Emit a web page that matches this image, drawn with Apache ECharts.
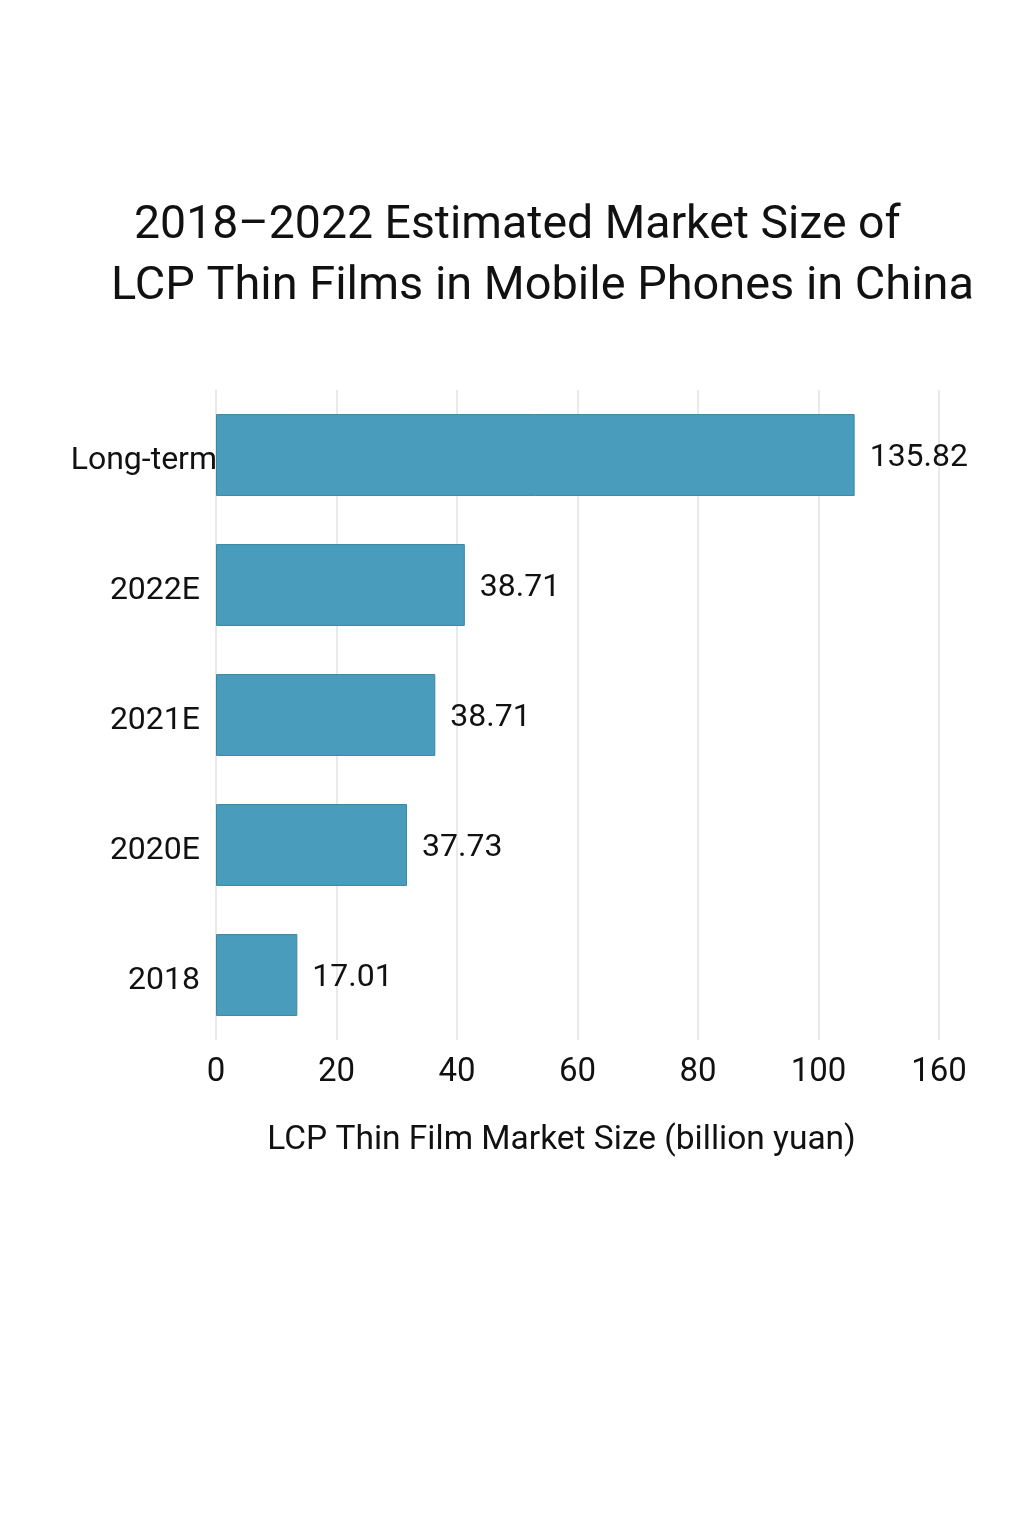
<!DOCTYPE html>
<html><head><meta charset="utf-8">
<script src="https://cdn.jsdelivr.net/npm/echarts@6/dist/echarts.min.js"></script>
<style>html,body{margin:0;padding:0;background:#fff}#c{width:1024px;height:1536px}</style>
</head><body><div id="c"></div>
<script>
const titleLine1 = '2018\u20132022 Estimated Market Size of';
const titleLine2 = 'LCP Thin Films in Mobile Phones in China';
const categories = ['2018', '2020E', '2021E', '2022E', 'Long-term'];
// bar lengths as drawn against the axis
const barLengths = [13.5, 31.7, 36.4, 41.3, 106.0];
// printed value labels
const valueLabels = ['17.01', '37.73', '38.71', '38.71', '135.82'];
const tickLabels = ['0', '20', '40', '60', '80', '100', '160'];
const axisName = 'LCP Thin Film Market Size (billion yuan)';

const FONT = 'Roboto';
const chart = echarts.init(document.getElementById('c'), null, {renderer: 'canvas'});
chart.setOption({
  backgroundColor: '#ffffff',
  animation: false,
  title: [
    {text: titleLine1, left: 129, top: 198, textStyle: {fontFamily: FONT, fontSize: 46.4, fontWeight: 'normal', color: '#111'}},
    {text: titleLine2, left: 106, top: 259, textStyle: {fontFamily: FONT, fontSize: 46.9, fontWeight: 'normal', color: '#111'}}
  ],
  grid: {left: 216, right: 85, top: 390, bottom: 496, containLabel: false},
  xAxis: {
    type: 'value', min: 0, max: 120, interval: 20,
    axisLine: {show: false}, axisTick: {show: false},
    splitLine: {show: true, lineStyle: {color: '#e2e2e2', width: 1.5}},
    axisLabel: {fontFamily: FONT, fontSize: 33, color: '#111', margin: 16,
      formatter: function (v) { return tickLabels[Math.round(v / 20)]; }},
    name: axisName, nameLocation: 'middle', nameGap: 84,
    nameTextStyle: {fontFamily: FONT, fontSize: 33.5, color: '#111', padding: [0, 32, 0, 0]}
  },
  yAxis: {
    type: 'category', data: categories,
    axisLine: {show: false}, axisTick: {show: false},
    axisLabel: {fontFamily: FONT, fontSize: 32, color: '#111', margin: 16,
      formatter: function (v, i) { return (i === categories.length - 1 ? '{b|' : '{a|') + v + '}'; },
      rich: {
        a: {fontFamily: FONT, fontSize: 32, color: '#111', padding: [12, 0, 0, 0]},
        b: {fontFamily: FONT, fontSize: 32, color: '#111', padding: [12, -17, 0, 0]}
      }}
  },
  series: [{
    type: 'bar', data: barLengths, barCategoryGap: '37%',
    itemStyle: {color: '#4a9cbd', borderColor: '#3b87a3', borderWidth: 1},
    label: {show: true, position: 'right', distance: 15, fontFamily: FONT, fontSize: 32, color: '#111', offset: [0, 3],
      formatter: function (p) { return valueLabels[p.dataIndex]; }}
  }]
});
</script></body></html>
